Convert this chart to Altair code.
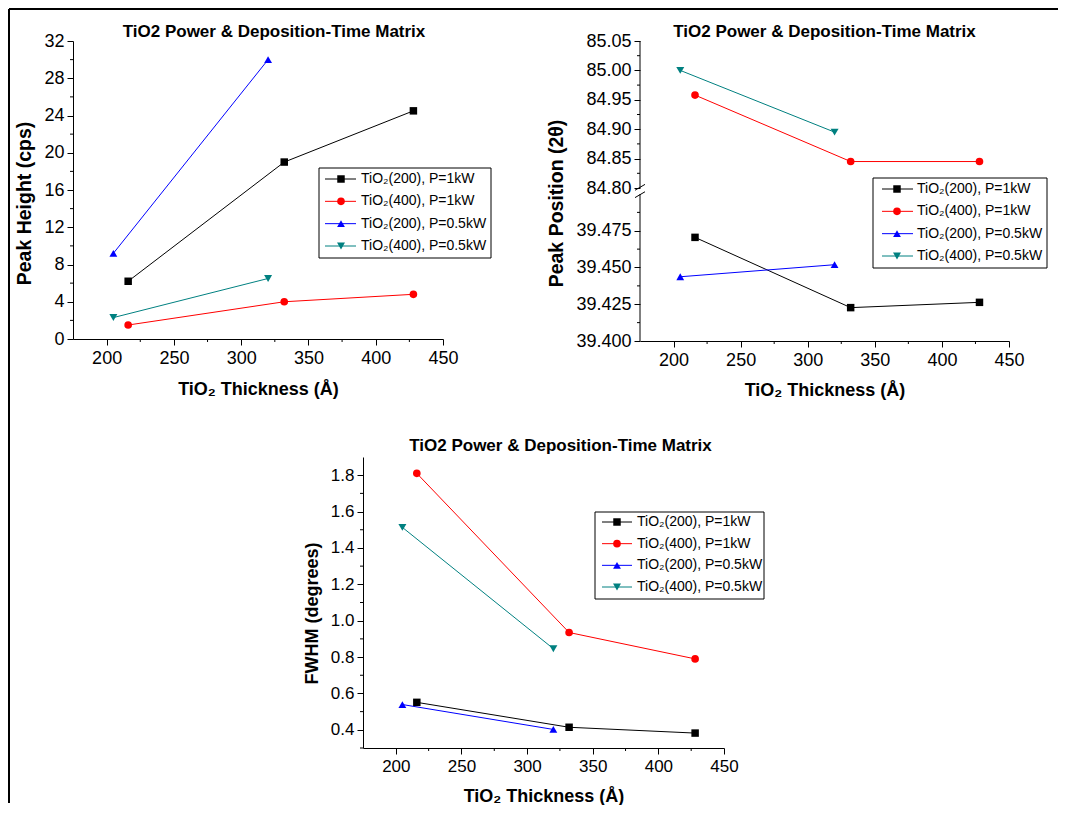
import altair as alt
import pandas as pd

FONT = "Liberation Sans"

# ---------------- data ----------------
SERIES = ["TiO₂(200), P=1kW", "TiO₂(400), P=1kW", "TiO₂(200), P=0.5kW", "TiO₂(400), P=0.5kW"]
COLORS = ["#000000", "#ff0000", "#0000ff", "#008080"]
SHAPES = ["square", "circle", "triangle-up", "triangle-down"]
SIZES = [56, 64, 96, 96]

THICK_1KW = [216, 332, 428]
THICK_05KW = [205, 320]

# Peak height (cps)
PH_200_1KW = [6.2, 19.0, 24.5]
PH_400_1KW = [1.5, 4.0, 4.8]
PH_200_05KW = [9.2, 30.0]
PH_400_05KW = [2.3, 6.5]

# Peak position (2 theta)
PP_200_1KW = [39.4705, 39.4227, 39.4263]
PP_400_1KW = [84.958, 84.845, 84.845]
PP_200_05KW = [39.4437, 39.4519]
PP_400_05KW = [85.000, 84.895]

# FWHM (degrees)
FW_200_1KW = [0.551, 0.414, 0.382]
FW_400_1KW = [1.81, 0.935, 0.79]
FW_200_05KW = [0.539, 0.402]
FW_400_05KW = [1.513, 0.846]

# axes
X_DOMAIN = [175, 450]
X_TICKS = [200, 250, 300, 350, 400, 450]
X_MINOR = [225, 275, 325, 375, 425]

PH_DOMAIN = [0, 32]
PH_TICKS = [0, 4, 8, 12, 16, 20, 24, 28, 32]
PH_MINOR = [2, 6, 10, 14, 18, 22, 26, 30]

PP_LOW = [39.400, 39.500]
PP_HIGH = [84.80, 85.05]
PP_LOW_TICKS = [39.400, 39.425, 39.450, 39.475]
PP_LOW_MINOR = [39.4125, 39.4375, 39.4625, 39.4875]
PP_HIGH_TICKS = [84.80, 84.85, 84.90, 84.95, 85.00, 85.05]
PP_HIGH_MINOR = [84.825, 84.875, 84.925, 84.975, 85.025]
GAP = 6 / 147.0

FW_DOMAIN = [0.3, 1.9]
FW_TICKS = [0.4, 0.6, 0.8, 1.0, 1.2, 1.4, 1.6, 1.8]
FW_MINOR = [0.3, 0.5, 0.7, 0.9, 1.1, 1.3, 1.5, 1.7]

TITLE = "TiO2 Power & Deposition-Time Matrix"
X_TITLE = "TiO₂ Thickness (Å)"


def brk(v):
    """broken-axis position: lower segment 0..1, upper segment 1+GAP..2+GAP"""
    if v < 60:
        return (v - PP_LOW[0]) / (PP_LOW[1] - PP_LOW[0])
    return 1 + GAP + (v - PP_HIGH[0]) / (PP_HIGH[1] - PP_HIGH[0])


def make_df(a, b, c, d, f=None):
    rows = []
    for s, xs, ys in zip(SERIES, [THICK_1KW, THICK_1KW, THICK_05KW, THICK_05KW], [a, b, c, d]):
        for x, y in zip(xs, ys):
            rows.append({"series": s, "x": x, "y": f(y) if f else y, "raw": y})
    return pd.DataFrame(rows)


cscale = alt.Scale(domain=SERIES, range=COLORS)
sscale = alt.Scale(domain=SERIES, range=SHAPES)
zscale = alt.Scale(domain=SERIES, range=SIZES)


def x_axis(W, fs, ty, sx):
    return alt.Axis(values=X_TICKS, format="d", title=X_TITLE, orient="bottom",
                    titleX=sx + W / 2, titleY=ty, titleAlign="center", titleBaseline="alphabetic",
                    titleFont=FONT, titleFontSize=18, titleFontWeight="bold", titleColor="black",
                    labelFont=FONT, labelFontSize=fs, labelColor="black", labelPadding=4,
                    labelFlush=False, labelOverlap=False,
                    tickSize=6, tickColor="black", tickWidth=1,
                    domainColor="black", domainWidth=1, grid=False)


def y_axis(values, title, tx, ty, fs, tfs, fmt=None, label_expr=None, domain=True, offset=0):
    kw = dict(values=values, title=title, orient="left", offset=offset,
              titleX=tx, titleY=ty, titleAlign="center", titleBaseline="alphabetic",
              titleFont=FONT, titleFontSize=tfs, titleFontWeight="bold", titleColor="black",
              labelFont=FONT, labelFontSize=fs, labelColor="black", labelPadding=3,
              labelFlush=False, labelOverlap=False,
              tickSize=6, tickColor="black", tickWidth=1,
              domain=domain, domainColor="black", domainWidth=1, grid=False)
    if fmt:
        kw["format"] = fmt
    if label_expr:
        kw["labelExpr"] = label_expr
    return alt.Axis(**kw)


def legend_layers(g, sx):
    ldf = pd.DataFrame({"series": SERIES, "k": [0, 1, 2, 3]})
    yk = alt.Y("k:O", axis=None,
               scale=alt.Scale(type="point", domain=[0, 1, 2, 3], range=[g["r0"], g["r1"]], padding=0))
    box = alt.Chart(pd.DataFrame({"b": [0]})).mark_rect(fill="white", stroke="black", strokeWidth=1).encode(
        x=alt.value(sx + g["bx0"]), x2=alt.value(sx + g["bx1"]), y=alt.value(g["by0"]), y2=alt.value(g["by1"]))
    lines = alt.Chart(ldf).mark_rule(strokeWidth=1).encode(
        x=alt.value(sx + g["lx0"]), x2=alt.value(sx + g["lx1"]), y=yk,
        color=alt.Color("series:N", scale=cscale, legend=None))
    marks = alt.Chart(ldf).mark_point(filled=True, opacity=1).encode(
        x=alt.value(sx + g["mx"]), y=yk,
        color=alt.Color("series:N", scale=cscale, legend=None),
        shape=alt.Shape("series:N", scale=sscale, legend=None),
        size=alt.Size("series:N", scale=zscale, legend=None))
    texts = alt.Chart(ldf).mark_text(align="left", baseline="middle", font=FONT, fontSize=14, color="black").encode(
        x=alt.value(sx + g["tx"]), y=yk, text="series:N")
    return [box, lines, marks, texts]


def panel(df, W, H, ydom, yax, yminor, fs, xty, leg, title_dx, title_off, sx=0, extra=None):
    xs = alt.Scale(domain=X_DOMAIN, nice=False, zero=False, range=[sx, sx + W])
    ys = alt.Scale(domain=ydom, nice=False, zero=False)
    xenc = alt.X("x:Q", scale=xs, axis=x_axis(W, fs, xty, sx))
    col = alt.Color("series:N", scale=cscale, legend=None)
    base = alt.Chart(df)
    lines = base.mark_line(strokeWidth=1).encode(
        x=xenc, y=alt.Y("y:Q", scale=ys, axis=yax), color=col, detail="series:N")
    pts = base.mark_point(filled=True, opacity=1).encode(
        x=xenc, y=alt.Y("y:Q", scale=ys, axis=None), color=col,
        shape=alt.Shape("series:N", scale=sscale, legend=None),
        size=alt.Size("series:N", scale=zscale, legend=None))
    ymin = alt.Chart(pd.DataFrame({"y": yminor})).mark_rule(color="black", strokeWidth=1).encode(
        y=alt.Y("y:Q", scale=ys, axis=None), x=alt.value(sx - 3), x2=alt.value(sx))
    xmin = alt.Chart(pd.DataFrame({"x": X_MINOR})).mark_rule(color="black", strokeWidth=1).encode(
        x=xenc, y=alt.value(H), y2=alt.value(H + 3))
    layers = [lines, ymin, xmin]
    if extra is not None:
        layers += extra(ys)
    layers.append(pts)
    layers += legend_layers(leg, sx)
    return alt.layer(*layers).resolve_scale(y="independent").properties(
        width=W, height=H,
        title=alt.TitleParams(text=TITLE, font=FONT, fontSize=17, fontWeight="bold", color="black",
                              anchor="middle", frame="group", dx=title_dx + sx, offset=title_off))


# ---------- panel 1 : peak height ----------
df1 = make_df(PH_200_1KW, PH_400_1KW, PH_200_05KW, PH_400_05KW)
p1 = panel(df1, 370, 298, PH_DOMAIN,
           y_axis(PH_TICKS, "Peak Height (cps)", -43, 162, 18, 19.5, fmt="d"),
           PH_MINOR, 18, 55,
           dict(bx0=246, bx1=418, by0=127, by1=217, r0=138, r1=205, lx0=252, lx1=283, mx=268, tx=288),
           16, -9)

# ---------- panel 2 : peak position (broken axis) ----------
df2 = make_df(PP_200_1KW, PP_400_1KW, PP_200_05KW, PP_400_05KW, f=brk)
pp_major = [brk(v) for v in PP_LOW_TICKS + PP_HIGH_TICKS]
pp_minor = [brk(v) for v in PP_LOW_MINOR + PP_HIGH_MINOR]
label_expr = ("datum.value < 1.02 ? format(%r + datum.value * %r, '.3f') : "
              "format(%r + (datum.value - %r) * %r, '.2f')") % (
    PP_LOW[0], PP_LOW[1] - PP_LOW[0], PP_HIGH[0], 1 + GAP, PP_HIGH[1] - PP_HIGH[0])


def broken_axis_parts(ys):
    seg = pd.DataFrame({"a": [brk(PP_LOW[0]), brk(PP_HIGH[0])], "b": [brk(PP_LOW[1]), brk(PP_HIGH[1])]})
    segs = alt.Chart(seg).mark_rule(color="black", strokeWidth=1).encode(
        x=alt.value(0), y=alt.Y("a:Q", scale=ys, axis=None), y2="b:Q")
    mid = 1 + GAP / 2
    slash = pd.DataFrame({"a": [mid - 0.045, mid + 0.005], "b": [mid - 0.005, mid + 0.045]})
    sl = alt.Chart(slash).mark_rule(color="black", strokeWidth=1).encode(
        x=alt.value(-5), x2=alt.value(5), y=alt.Y("a:Q", scale=ys, axis=None), y2="b:Q")
    return [segs, sl]


p2 = panel(df2, 369, 300, [0, 2 + GAP],
           y_axis(pp_major, "Peak Position (2θ)", -78, 162, 18, 19.5, label_expr=label_expr, domain=False),
           pp_minor, 18, 54,
           dict(bx0=233, bx1=407, by0=137, by1=227, r0=148, r1=215, lx0=242, lx1=273, mx=257, tx=277),
           0, -9, extra=broken_axis_parts)

# ---------- panel 3 : FWHM (placed in grid column 2, drawn shifted left) ----------
SHIFT3 = -277
df3 = make_df(FW_200_1KW, FW_400_1KW, FW_200_05KW, FW_400_05KW)
p3 = panel(df3, 361, 291, FW_DOMAIN,
           y_axis(FW_TICKS, "FWHM (degrees)", -46, 156, 17, 18, fmt=".1f", offset=-SHIFT3),
           FW_MINOR, 17, 53,
           dict(bx0=232, bx1=401, by0=55, by1=142, r0=65, r1=130, lx0=239, lx1=269, mx=254, tx=274),
           17, 2, sx=SHIFT3)

# ---------- page frame (bottom-left cell) ----------
fdf = pd.DataFrame({"f": [0]})
spacer = alt.layer(
    alt.Chart(fdf).mark_rule(color="black", strokeWidth=2).encode(
        x=alt.value(-64), x2=alt.value(985), y=alt.value(-448)),
    alt.Chart(fdf).mark_rule(color="black", strokeWidth=2).encode(
        x=alt.value(-64), y=alt.value(-448), y2=alt.value(346)),
).properties(width=370, height=10)

chart = alt.concat(p1, p2, spacer, p3, columns=2).properties(
    bounds="flush", spacing={"row": 116, "column": 197},
    padding=0, background="white"
).configure_view(stroke=None)

chart.save("out.html", embed_options={"renderer": "svg", "actions": False})
